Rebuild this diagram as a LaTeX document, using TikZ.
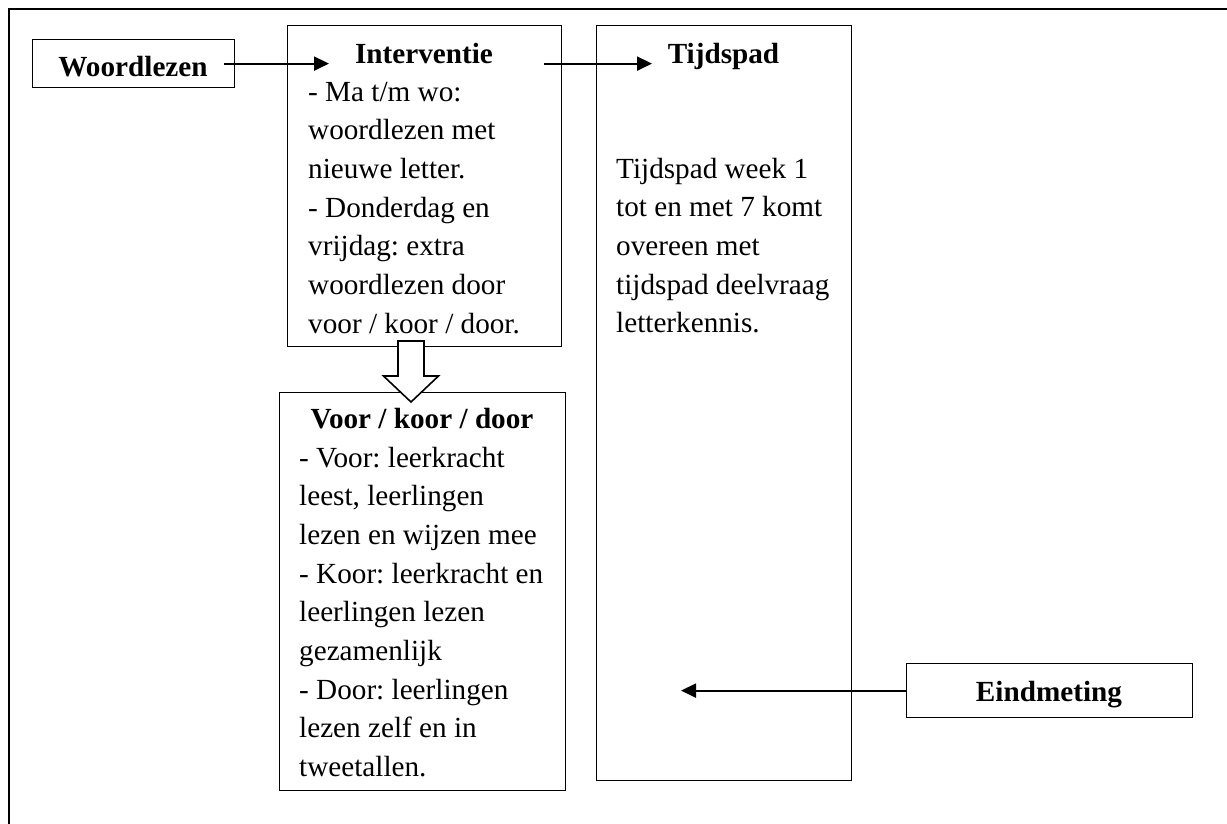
\documentclass[tikz,border=0pt]{standalone}
\usepackage{fontspec}
\setmainfont{Liberation Serif}
\usetikzlibrary{arrows.meta,calc}
\frenchspacing
\newcommand{\bodyfont}{\fontsize{29.2}{38.7}\selectfont}
\tikzset{
  box/.style={draw=black, line width=1.2pt, inner sep=0pt, anchor=north west},
  conn/.style={line width=2pt, -{Triangle[length=15pt,width=14pt]}},
  lbl/.style={inner sep=0pt, font=\bodyfont\bfseries, anchor=base},
  body/.style={inner sep=0pt, anchor=base west, font=\bodyfont},
  frame/.style={line width=2.7pt},
  hollow/.style={draw=black, fill=white, line width=1.6pt, line join=miter}
}
\begin{document}
\begin{tikzpicture}[x=1pt,y=-1pt]
\useasboundingbox (0,0) rectangle (1227,823);
% outer frame (only top and left edges visible)
\draw[frame] (9,830) -- (9,9) -- (1235,9);
% boxes
\node[box, minimum width=202pt, minimum height=48pt]  (woord) at (32,39) {};
\node[box, minimum width=274pt, minimum height=321pt] (inter) at (287,25) {};
\node[box, minimum width=255pt, minimum height=755pt] (tijd)  at (596,25) {};
\node[box, minimum width=286pt, minimum height=398pt] (voor)  at (279,392) {};
\node[box, minimum width=286pt, minimum height=54pt]  (eind)  at (906,663) {};
% texts
\node[lbl] (woordT) at (133,76) {Woordlezen};
\node[lbl] (interT) at (424,63) {Interventie};
\node[body] (interB) at (308,101) {\parbox[t]{250pt}{\bodyfont\frenchspacing
- Ma t/m wo:\\
woordlezen met\\
nieuwe letter.\\
- Donderdag en\\
vrijdag: extra\\
woordlezen door\\
voor / koor / door.}};
\node[lbl] (tijdT) at (723.5,63) {Tijdspad};
\node[body] (tijdB) at (616,178) {\parbox[t]{230pt}{\bodyfont\frenchspacing
Tijdspad week 1\\
tot en met 7 komt\\
overeen met\\
tijdspad deelvraag\\
letterkennis.}};
\node[lbl] (voorT) at (422,428) {Voor / koor / door};
\node[body] (voorB) at (299,467) {\parbox[t]{260pt}{\bodyfont\frenchspacing
- Voor: leerkracht\\
leest, leerlingen\\
lezen en wijzen mee\\
- Koor: leerkracht en\\
leerlingen lezen\\
gezamenlijk\\
- Door: leerlingen\\
lezen zelf en in\\
tweetallen.}};
\node[lbl] (eindT) at (1049,701) {Eindmeting};
% connectors
\draw[conn] ([xshift=-11pt]woord.east) -- ([xshift=42pt]woord.east -| inter.west);
\draw[conn] ([xshift=-18pt]woord.east -| inter.east) -- ([xshift=56pt]woord.east -| tijd.west);
\draw[conn] (eind.west) -- ([xshift=-225pt]eind.west);
% hollow block arrow from Interventie to Voor / koor / door
\coordinate (hs) at (411,341);
\coordinate (ht) at (411,402);
\draw[hollow] ($(hs)+(-13,0)$) -- ($(hs)+(13,0)$) -- ($(hs)+(13,35)$) -- ($(hs)+(27.5,35)$)
  -- (ht) -- ($(hs)+(-27.5,35)$) -- ($(hs)+(-13,35)$) -- cycle;
\end{tikzpicture}
\end{document}
